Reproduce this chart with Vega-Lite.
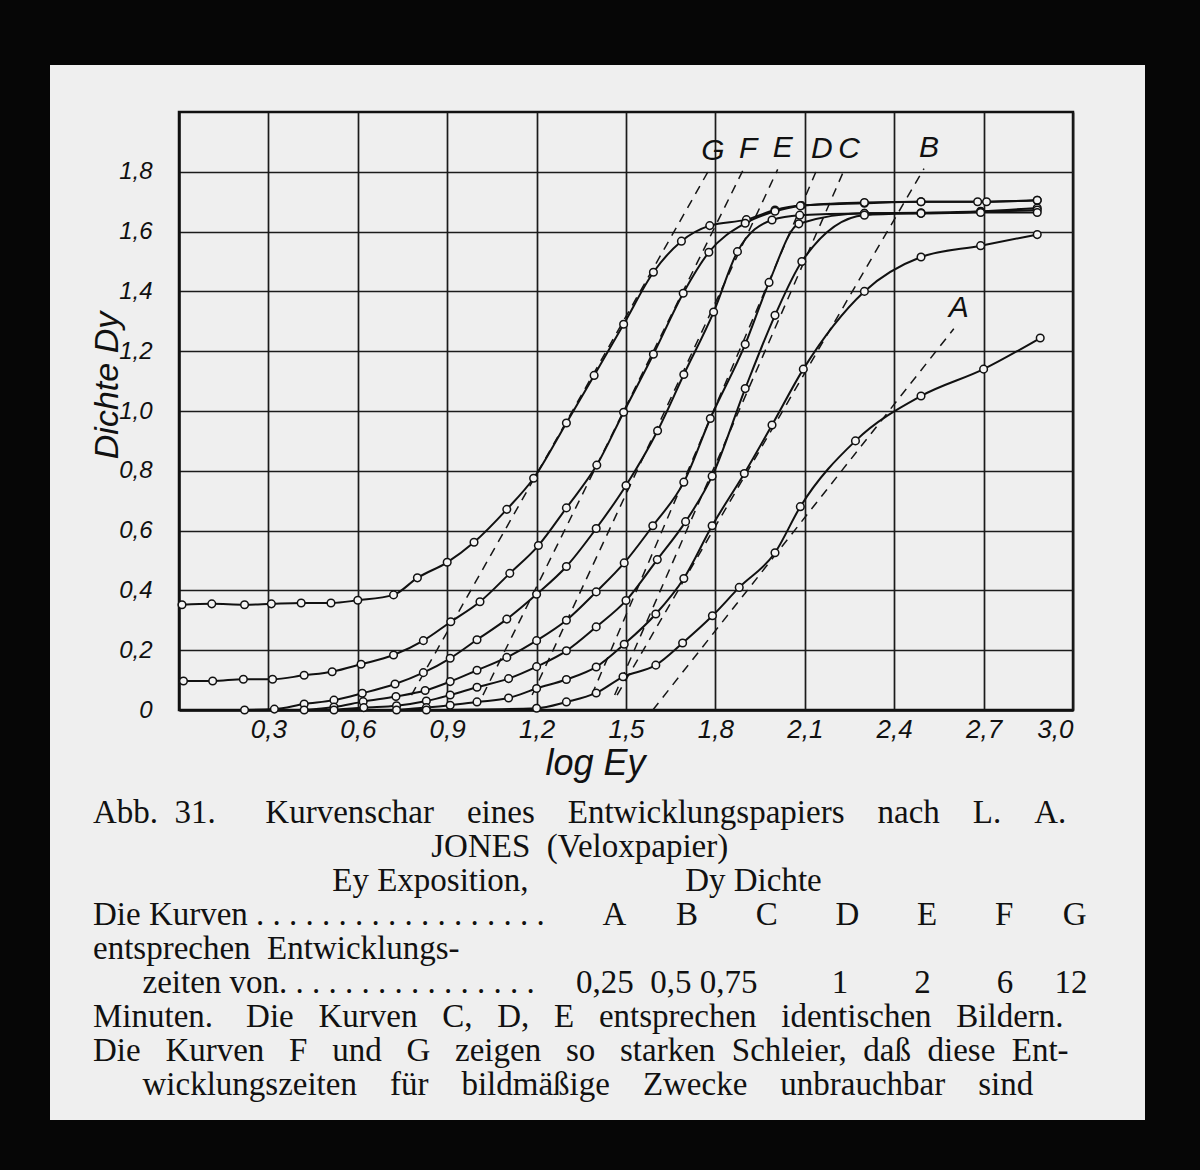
{
  "$schema": "https://vega.github.io/schema/vega-lite/v6.json",
  "width": 894,
  "height": 598,
  "autosize": {"type": "none"},
  "padding": {"left": 179, "top": 112, "right": 127, "bottom": 460},
  "background": "#efefef",
  "datasets": {
    "curves": [
      {"c":"G","x":0.01,"y":0.352},{"c":"G","x":0.11,"y":0.355},{"c":"G","x":0.22,"y":0.352},{"c":"G","x":0.31,"y":0.355},{"c":"G","x":0.41,"y":0.358},{"c":"G","x":0.51,"y":0.358},{"c":"G","x":0.60,"y":0.367},{"c":"G","x":0.72,"y":0.385},{"c":"G","x":0.80,"y":0.442},{"c":"G","x":0.90,"y":0.494},{"c":"G","x":0.99,"y":0.561},{"c":"G","x":1.10,"y":0.671},{"c":"G","x":1.19,"y":0.775},{"c":"G","x":1.30,"y":0.96},{"c":"G","x":1.393,"y":1.119},{"c":"G","x":1.492,"y":1.29},{"c":"G","x":1.592,"y":1.464},{"c":"G","x":1.686,"y":1.568},{"c":"G","x":1.781,"y":1.62},{"c":"G","x":1.904,"y":1.64},{"c":"G","x":2.0,"y":1.672},{"c":"G","x":2.088,"y":1.687},{"c":"G","x":2.30,"y":1.695},{"c":"G","x":2.49,"y":1.70},{"c":"G","x":2.68,"y":1.70},{"c":"G","x":2.88,"y":1.705},
      {"c":"F","x":0.015,"y":0.097},{"c":"F","x":0.113,"y":0.097},{"c":"F","x":0.216,"y":0.103},{"c":"F","x":0.314,"y":0.103},{"c":"F","x":0.42,"y":0.116},{"c":"F","x":0.514,"y":0.128},{"c":"F","x":0.611,"y":0.153},{"c":"F","x":0.72,"y":0.184},{"c":"F","x":0.82,"y":0.232},{"c":"F","x":0.912,"y":0.295},{"c":"F","x":1.01,"y":0.362},{"c":"F","x":1.11,"y":0.457},{"c":"F","x":1.206,"y":0.55},{"c":"F","x":1.30,"y":0.676},{"c":"F","x":1.402,"y":0.819},{"c":"F","x":1.492,"y":0.996},{"c":"F","x":1.592,"y":1.19},{"c":"F","x":1.692,"y":1.394},{"c":"F","x":1.778,"y":1.531},{"c":"F","x":1.90,"y":1.628},{"c":"F","x":2.0,"y":1.668},{"c":"F","x":2.085,"y":1.686},{"c":"F","x":2.30,"y":1.697},{"c":"F","x":2.49,"y":1.70},{"c":"F","x":2.71,"y":1.70},{"c":"F","x":2.88,"y":1.705},
      {"c":"E","x":0.22,"y":0.0},{"c":"E","x":0.32,"y":0.003},{"c":"E","x":0.42,"y":0.02},{"c":"E","x":0.52,"y":0.033},{"c":"E","x":0.615,"y":0.056},{"c":"E","x":0.725,"y":0.087},{"c":"E","x":0.82,"y":0.125},{"c":"E","x":0.91,"y":0.173},{"c":"E","x":1.0,"y":0.235},{"c":"E","x":1.1,"y":0.304},{"c":"E","x":1.2,"y":0.387},{"c":"E","x":1.3,"y":0.48},{"c":"E","x":1.4,"y":0.607},{"c":"E","x":1.5,"y":0.751},{"c":"E","x":1.606,"y":0.934},{"c":"E","x":1.694,"y":1.122},{"c":"E","x":1.794,"y":1.331},{"c":"E","x":1.874,"y":1.533},{"c":"E","x":1.99,"y":1.639},{"c":"E","x":2.083,"y":1.655},{"c":"E","x":2.30,"y":1.661},{"c":"E","x":2.49,"y":1.663},{"c":"E","x":2.69,"y":1.668},{"c":"E","x":2.88,"y":1.679},
      {"c":"D","x":0.42,"y":0.0},{"c":"D","x":0.52,"y":0.01},{"c":"D","x":0.618,"y":0.028},{"c":"D","x":0.728,"y":0.045},{"c":"D","x":0.826,"y":0.065},{"c":"D","x":0.91,"y":0.095},{"c":"D","x":1.0,"y":0.133},{"c":"D","x":1.1,"y":0.176},{"c":"D","x":1.2,"y":0.232},{"c":"D","x":1.3,"y":0.30},{"c":"D","x":1.4,"y":0.395},{"c":"D","x":1.494,"y":0.492},{"c":"D","x":1.59,"y":0.616},{"c":"D","x":1.694,"y":0.762},{"c":"D","x":1.783,"y":0.975},{"c":"D","x":1.90,"y":1.223},{"c":"D","x":1.98,"y":1.43},{"c":"D","x":2.08,"y":1.626},{"c":"D","x":2.30,"y":1.661},{"c":"D","x":2.49,"y":1.661},{"c":"D","x":2.69,"y":1.666},{"c":"D","x":2.88,"y":1.672},
      {"c":"C","x":0.52,"y":0.0},{"c":"C","x":0.62,"y":0.008},{"c":"C","x":0.73,"y":0.014},{"c":"C","x":0.83,"y":0.03},{"c":"C","x":0.91,"y":0.05},{"c":"C","x":1.0,"y":0.076},{"c":"C","x":1.106,"y":0.105},{"c":"C","x":1.2,"y":0.145},{"c":"C","x":1.3,"y":0.198},{"c":"C","x":1.4,"y":0.278},{"c":"C","x":1.5,"y":0.366},{"c":"C","x":1.605,"y":0.503},{"c":"C","x":1.70,"y":0.63},{"c":"C","x":1.789,"y":0.782},{"c":"C","x":1.90,"y":1.075},{"c":"C","x":2.0,"y":1.32},{"c":"C","x":2.09,"y":1.50},{"c":"C","x":2.30,"y":1.655},{"c":"C","x":2.49,"y":1.661},{"c":"C","x":2.69,"y":1.664},{"c":"C","x":2.88,"y":1.664},
      {"c":"B","x":0.73,"y":0.0},{"c":"B","x":0.83,"y":0.008},{"c":"B","x":0.91,"y":0.016},{"c":"B","x":1.0,"y":0.027},{"c":"B","x":1.106,"y":0.04},{"c":"B","x":1.2,"y":0.072},{"c":"B","x":1.3,"y":0.102},{"c":"B","x":1.4,"y":0.144},{"c":"B","x":1.494,"y":0.22},{"c":"B","x":1.6,"y":0.321},{"c":"B","x":1.694,"y":0.44},{"c":"B","x":1.789,"y":0.616},{"c":"B","x":1.897,"y":0.791},{"c":"B","x":1.99,"y":0.953},{"c":"B","x":2.095,"y":1.14},{"c":"B","x":2.30,"y":1.40},{"c":"B","x":2.49,"y":1.515},{"c":"B","x":2.69,"y":1.553},{"c":"B","x":2.88,"y":1.59},
      {"c":"A","x":0.83,"y":0.0},{"c":"A","x":1.2,"y":0.006},{"c":"A","x":1.3,"y":0.027},{"c":"A","x":1.4,"y":0.057},{"c":"A","x":1.49,"y":0.111},{"c":"A","x":1.6,"y":0.15},{"c":"A","x":1.69,"y":0.224},{"c":"A","x":1.79,"y":0.315},{"c":"A","x":1.88,"y":0.41},{"c":"A","x":2.0,"y":0.526},{"c":"A","x":2.085,"y":0.68},{"c":"A","x":2.27,"y":0.90},{"c":"A","x":2.49,"y":1.05},{"c":"A","x":2.70,"y":1.14},{"c":"A","x":2.89,"y":1.244}
    ],
    "tangents": [
      {"c":"G","x":0.78,"y":0.05,"end":"bottom"},{"c":"G","x":1.775,"y":1.80,"end":"top"},
      {"c":"F","x":1.02,"y":0.05,"end":"bottom"},{"c":"F","x":1.893,"y":1.806,"end":"top"},
      {"c":"E","x":1.185,"y":0.05,"end":"bottom"},{"c":"E","x":2.009,"y":1.808,"end":"top"},
      {"c":"D","x":1.385,"y":0.05,"end":"bottom"},{"c":"D","x":2.14,"y":1.806,"end":"top"},
      {"c":"C","x":1.462,"y":0.05,"end":"bottom"},{"c":"C","x":2.232,"y":1.806,"end":"top"},
      {"c":"B","x":1.47,"y":0.05,"end":"bottom"},{"c":"B","x":2.50,"y":1.811,"end":"top"},
      {"c":"A","x":1.59,"y":0.0,"end":"bottom"},{"c":"A","x":2.60,"y":1.275,"end":"top"}
    ]
  },
  "title": {
    "text": [
      "Abb.\u00a0\u00a031.\u00a0\u00a0\u00a0\u00a0\u00a0\u00a0Kurvenschar\u00a0\u00a0\u00a0\u00a0eines\u00a0\u00a0\u00a0\u00a0Entwicklungspapiers\u00a0\u00a0\u00a0\u00a0nach\u00a0\u00a0\u00a0\u00a0L.\u00a0\u00a0\u00a0\u00a0A.",
      "\u200b\u00a0\u00a0\u00a0\u00a0\u00a0\u00a0\u00a0\u00a0\u00a0\u00a0\u00a0\u00a0\u00a0\u00a0\u00a0\u00a0\u00a0\u00a0\u00a0\u00a0\u00a0\u00a0\u00a0\u00a0\u00a0\u00a0\u00a0\u00a0\u00a0\u00a0\u00a0\u00a0\u00a0\u00a0\u00a0\u00a0\u00a0\u00a0\u00a0\u00a0\u00a0JONES\u00a0\u00a0(Veloxpapier)",
      "\u200b\u00a0\u00a0\u00a0\u00a0\u00a0\u00a0\u00a0\u00a0\u00a0\u00a0\u00a0\u00a0\u00a0\u00a0\u00a0\u00a0\u00a0\u00a0\u00a0\u00a0\u00a0\u00a0\u00a0\u00a0\u00a0\u00a0\u00a0\u00a0\u00a0Ey\u00a0Exposition,\u00a0\u00a0\u00a0\u00a0\u00a0\u00a0\u00a0\u00a0\u00a0\u00a0\u00a0\u00a0\u00a0\u00a0\u00a0\u00a0\u00a0\u00a0\u00a0Dy\u00a0Dichte",
      "Die\u00a0Kurven\u00a0.\u00a0.\u00a0.\u00a0.\u00a0.\u00a0.\u00a0.\u00a0.\u00a0.\u00a0.\u00a0.\u00a0.\u00a0.\u00a0.\u00a0.\u00a0.\u00a0.\u00a0.\u00a0\u00a0\u00a0\u00a0\u00a0\u00a0\u00a0A\u00a0\u00a0\u00a0\u00a0\u00a0\u00a0B\u00a0\u00a0\u00a0\u00a0\u00a0\u00a0\u00a0C\u00a0\u00a0\u00a0\u00a0\u00a0\u00a0\u00a0D\u00a0\u00a0\u00a0\u00a0\u00a0\u00a0\u00a0E\u00a0\u00a0\u00a0\u00a0\u00a0\u00a0\u00a0F\u00a0\u00a0\u00a0\u00a0\u00a0\u00a0G",
      "entsprechen\u00a0\u00a0Entwicklungs-",
      "\u200b\u00a0\u00a0\u00a0\u00a0\u00a0\u00a0zeiten\u00a0von.\u00a0.\u00a0.\u00a0.\u00a0.\u00a0.\u00a0.\u00a0.\u00a0.\u00a0.\u00a0.\u00a0.\u00a0.\u00a0.\u00a0.\u00a0.\u00a0\u00a0\u00a0\u00a0\u00a00,25\u00a0\u00a00,5\u00a00,75\u00a0\u00a0\u00a0\u00a0\u00a0\u00a0\u00a0\u00a0\u00a01\u00a0\u00a0\u00a0\u00a0\u00a0\u00a0\u00a0\u00a02\u00a0\u00a0\u00a0\u00a0\u00a0\u00a0\u00a0\u00a06\u00a0\u00a0\u00a0\u00a0\u00a012",
      "Minuten.\u00a0\u00a0\u00a0\u00a0Die\u00a0\u00a0\u00a0Kurven\u00a0\u00a0\u00a0C,\u00a0\u00a0\u00a0D,\u00a0\u00a0\u00a0E\u00a0\u00a0\u00a0entsprechen\u00a0\u00a0\u00a0identischen\u00a0\u00a0\u00a0Bildern.",
      "Die\u00a0\u00a0\u00a0Kurven\u00a0\u00a0\u00a0F\u00a0\u00a0\u00a0und\u00a0\u00a0\u00a0G\u00a0\u00a0\u00a0zeigen\u00a0\u00a0\u00a0so\u00a0\u00a0\u00a0starken\u00a0\u00a0Schleier,\u00a0\u00a0daß\u00a0\u00a0diese\u00a0\u00a0Ent-",
      "\u200b\u00a0\u00a0\u00a0\u00a0\u00a0\u00a0wicklungszeiten\u00a0\u00a0\u00a0\u00a0für\u00a0\u00a0\u00a0\u00a0bildmäßige\u00a0\u00a0\u00a0\u00a0Zwecke\u00a0\u00a0\u00a0\u00a0unbrauchbar\u00a0\u00a0\u00a0\u00a0sind"
    ],
    "orient": "bottom",
    "anchor": "start",
    "frame": "group",
    "align": "left",
    "baseline": "top",
    "dx": -86,
    "offset": -463,
    "font": "Liberation Serif",
    "fontSize": 33,
    "fontWeight": "normal",
    "color": "#111111",
    "lineHeight": 34
  },
  "layer": [
    {
      "data": {"values": [{}]},
      "mark": {"type": "rect", "filled": false, "stroke": "#060606", "strokeWidth": 140},
      "encoding": {
        "x": {"datum": -0.6678, "type": "quantitative", "scale": {"domain": [0, 3], "nice": false, "zero": false}, "title": "log Ey"},
        "x2": {"datum": 3.4765},
        "y": {"datum": 2.3913, "type": "quantitative", "scale": {"domain": [0, 2], "nice": false, "zero": false}, "title": "Dichte Dy"},
        "y2": {"datum": -1.6054}
      }
    },
    {
      "data": {"name": "tangents"},
      "mark": {"type": "line", "strokeDash": [9, 7], "strokeWidth": 1.5, "color": "#151515"},
      "encoding": {
        "x": {"field": "x", "type": "quantitative", "scale": {"domain": [0, 3], "nice": false, "zero": false}, "title": "log Ey"},
        "y": {"field": "y", "type": "quantitative", "scale": {"domain": [0, 2], "nice": false, "zero": false}, "title": "Dichte Dy"},
        "detail": {"field": "c"}
      }
    },
    {
      "data": {"name": "curves"},
      "mark": {"type": "line", "interpolate": "monotone", "strokeWidth": 2, "color": "#111111"},
      "encoding": {
        "x": {"field": "x", "type": "quantitative", "scale": {"domain": [0, 3], "nice": false, "zero": false}, "title": "log Ey",
              "axis": {"values": [0.3, 0.6, 0.9, 1.2, 1.5, 1.8, 2.1, 2.4, 2.7, 3.0], "labelExpr": "replace(format(datum.value, '.1f'), '.', ',')"}},
        "y": {"field": "y", "type": "quantitative", "scale": {"domain": [0, 2], "nice": false, "zero": false}, "title": "Dichte Dy",
              "axis": {"values": [0, 0.2, 0.4, 0.6, 0.8, 1.0, 1.2, 1.4, 1.6, 1.8], "labelExpr": "datum.value == 0 ? '0' : replace(format(datum.value, '.1f'), '.', ',')"}},
        "detail": {"field": "c"}
      }
    },
    {
      "data": {"name": "curves"},
      "mark": {"type": "point", "shape": "circle", "filled": true, "fill": "#f4f4f4", "stroke": "#111111", "strokeWidth": 1.5, "size": 58, "opacity": 1},
      "encoding": {
        "x": {"field": "x", "type": "quantitative", "scale": {"domain": [0, 3], "nice": false, "zero": false}, "title": "log Ey"},
        "y": {"field": "y", "type": "quantitative", "scale": {"domain": [0, 2], "nice": false, "zero": false}, "title": "Dichte Dy"}
      }
    },
    {
      "data": {"name": "tangents"},
      "transform": [{"filter": "datum.end == 'top'"}],
      "mark": {"type": "text", "font": "Liberation Sans", "fontStyle": "italic", "fontSize": 30, "baseline": "bottom", "align": "center", "dy": -6, "dx": 5, "color": "#111111"},
      "encoding": {
        "x": {"field": "x", "type": "quantitative", "scale": {"domain": [0, 3], "nice": false, "zero": false}, "title": "log Ey"},
        "y": {"field": "y", "type": "quantitative", "scale": {"domain": [0, 2], "nice": false, "zero": false}, "title": "Dichte Dy"},
        "text": {"field": "c"}
      }
    }
  ],
  "config": {
    "view": {"stroke": "#111111", "strokeWidth": 2.5},
    "axis": {
      "grid": true, "gridColor": "#1b1b1b", "gridWidth": 1.7, "gridOpacity": 1,
      "domainColor": "#111111", "domainWidth": 2.5, "ticks": false,
      "labelFont": "Liberation Sans", "labelFontStyle": "italic", "labelFontWeight": "normal", "labelColor": "#111111",
      "titleFont": "Liberation Sans", "titleFontStyle": "italic", "titleFontWeight": "normal", "titleColor": "#111111"
    },
    "axisX": {"labelFontSize": 26, "labelPadding": 6, "titleFontSize": 36, "titleX": 416, "titleY": 64, "titleBaseline": "alphabetic", "titleAlign": "center"},
    "axisY": {"labelFontSize": 24, "labelPadding": 27, "titleFontSize": 34, "titleX": -62, "titleY": 273, "titleBaseline": "alphabetic", "titleAlign": "center", "titleAngle": 270}
  }
}
